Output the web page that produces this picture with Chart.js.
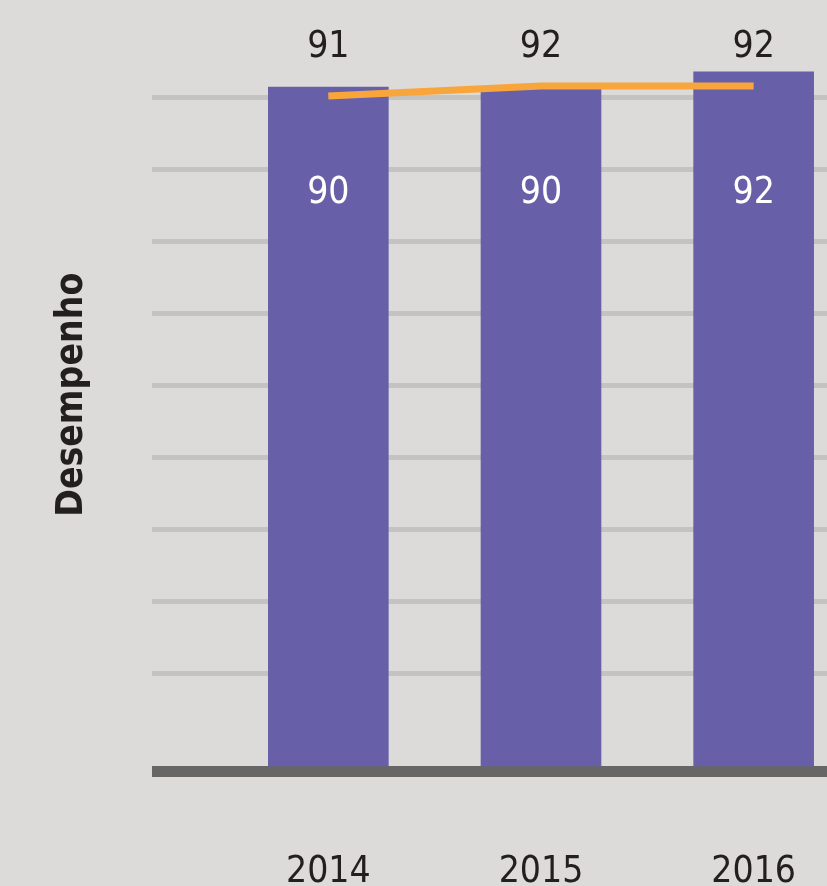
<!DOCTYPE html>
<html lang="pt">

<head>
    <meta charset="UTF-8">
    <title>Desempenho</title>
    <script src="https://cdn.jsdelivr.net/npm/chart.js"></script>
    <style>
        html,
        body {
            margin: 0;
            padding: 0;
            background: #dcdbd9;
            overflow: hidden;
        }

        /* the chart runs a little past the right edge of the window, like the original crop */
        .wrap {
            position: relative;
            width: 867px;
            height: 886px;
        }
    </style>
</head>

<body>
    <div class="wrap">
        <canvas id="chart"></canvas>
    </div>

    <script>
        // data
        const years = ['2014', '2015', '2016'];
        const barValues = [90, 90, 92];   // purple bars (white labels)
        const lineValues = [91, 92, 92];  // orange line (black labels on top)
        const axisTitle = 'Desempenho';

        const FONT = "'DejaVu Sans Condensed', 'Liberation Sans Narrow', 'DejaVu Sans', sans-serif";

        // draws the value labels above the chart and inside the bars
        const valueLabels = {
            id: 'valueLabels',
            afterDatasetsDraw(chart) {
                const ctx = chart.ctx;
                const area = chart.chartArea;
                const bars = chart.getDatasetMeta(0).data;
                ctx.save();
                ctx.font = '37px ' + FONT;
                ctx.textAlign = 'center';
                ctx.textBaseline = 'alphabetic';
                bars.forEach((bar, i) => {
                    ctx.fillStyle = '#231f20';
                    ctx.fillText(String(lineValues[i]), bar.x, area.top + 39);
                    ctx.fillStyle = '#ffffff';
                    ctx.fillText(String(barValues[i]), bar.x, area.top + 185);
                });
                ctx.restore();
            }
        };

        const ctx = document.getElementById('chart').getContext('2d');
        const chart = new Chart(ctx, {
            type: 'bar',
            data: {
                labels: years,
                datasets: [{
                    type: 'bar',
                    data: barValues,
                    backgroundColor: '#6760a8',
                    barThickness: 120,
                    yAxisID: 'yBar',
                    order: 2
                }, {
                    type: 'line',
                    data: lineValues,
                    borderColor: '#f8a63b',
                    borderWidth: 7,
                    borderCapStyle: 'butt',
                    pointRadius: 0,
                    tension: 0,
                    fill: false,
                    yAxisID: 'yLine',
                    order: 1
                }]
            },
            options: {
                responsive: true,
                maintainAspectRatio: false,
                animation: false,
                layout: {
                    padding: { left: 50, top: 18, right: 0, bottom: 0 }
                },
                plugins: {
                    legend: { display: false },
                    tooltip: { enabled: false }
                },
                scales: {
                    x: {
                        grid: { display: false },
                        border: { display: false },
                        ticks: {
                            padding: 71,
                            color: '#231f20',
                            font: { family: FONT, size: 37 }
                        },
                        afterFit: s => { s.height = 114.5; }
                    },
                    // axis only used for the grey guide lines, the dark base line and the title
                    y: {
                        type: 'linear',
                        position: 'left',
                        min: -0.36,
                        max: 10.1,
                        ticks: { display: false, stepSize: 1 },
                        border: { display: false },
                        grid: {
                            drawTicks: true,
                            tickLength: 70,
                            lineWidth: c => c.index === 0 ? 11 : 5,
                            color: c => {
                                if (c.index === 0) return '#666666';
                                const v = c.tick.value;
                                return (Number.isInteger(v) && v >= 1 && v <= 9) ? '#c4c3c2' : 'rgba(0,0,0,0)';
                            }
                        },
                        title: {
                            display: true,
                            text: axisTitle,
                            color: '#231f20',
                            font: { family: FONT, size: 37, weight: 'bold' },
                            padding: { top: 0, bottom: 57 }
                        },
                        afterFit: s => { s.width = 172; }
                    },
                    yBar: {
                        type: 'linear',
                        display: false,
                        min: -0.729,
                        max: 99.15
                    },
                    yLine: {
                        type: 'linear',
                        display: false,
                        min: 23.45,
                        max: 98.8
                    }
                }
            },
            plugins: [valueLabels]
        });
    </script>
</body>

</html>
